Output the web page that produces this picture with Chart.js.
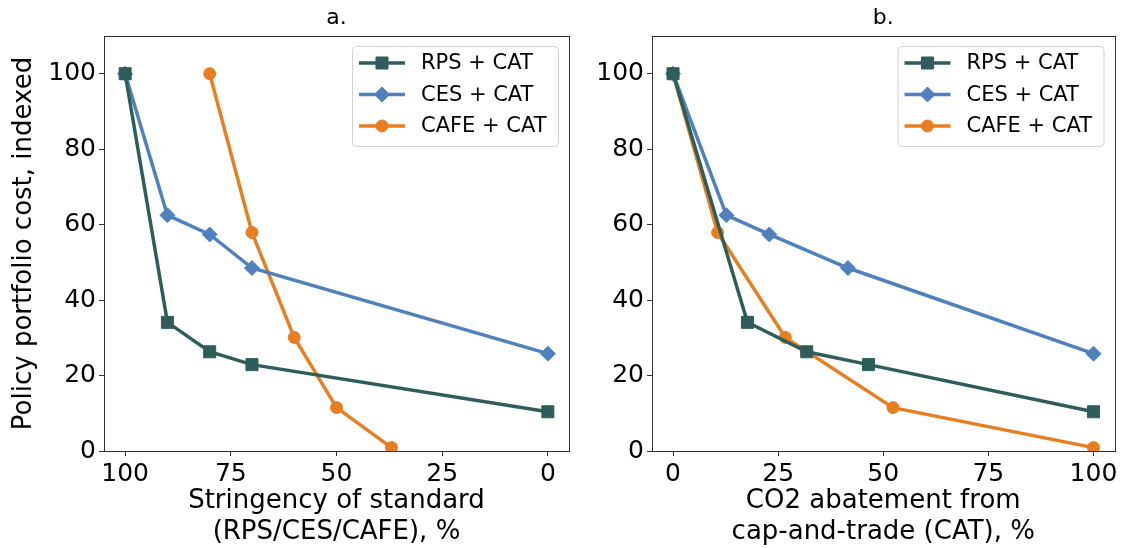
<!DOCTYPE html>
<html>
<head>
<meta charset="utf-8">
<script src="https://cdn.jsdelivr.net/npm/chart.js@4.4.0/dist/chart.umd.min.js"></script>
<style>
  body { margin: 0; background: #fff; }
  #wrap { position: relative; width: 1124px; height: 548px; overflow: hidden; }
  canvas { position: absolute; top: 0; }
  #left { left: 0; }
  #right { left: 548px; }
</style>
</head>
<body>
<div id="wrap">
  <canvas id="left" width="600" height="548" style="width:600px;height:548px"></canvas>
  <canvas id="right" width="576" height="548" style="width:576px;height:548px"></canvas>
</div>
<script>
const seriesNames = ["RPS + CAT", "CES + CAT", "CAFE + CAT"];
const seriesColors = ["#2f5e5a", "#4f81bd", "#e67e22"];
const markerStyles = ["rect", "rectRot", "circle"];
const markerRadius = [8.5, 7.5, 6];

// panel a: stringency of standard (%) vs cost
const stringencyRps = [100, 90, 80, 70, 0];
const stringencyCes = [100, 90, 80, 70, 0];
const stringencyCafe = [80, 70, 60, 50, 37];

// panel b: CO2 abatement from cap-and-trade (%) vs cost
const abatementRps = [0, 17.7, 31.8, 46.5, 100];
const abatementCes = [0, 12.7, 22.9, 41.6, 100];
const abatementCafe = [0, 10.6, 26.7, 52.3, 100];

// cost, indexed (same for both panels)
const costRps = [100, 34.1, 26.3, 22.9, 10.4];
const costCes = [100, 62.5, 57.4, 48.5, 25.8];
const costCafe = [100, 57.9, 30.1, 11.5, 0.9];

const xTicks = [0, 25, 50, 75, 100];
const yTicks = [0, 20, 40, 60, 80, 100];

const FONT = '"DejaVu Sans", sans-serif';

function points(xs, ys){
    return xs.map((x, i) => ({x: x, y: ys[i]}));
}

function makeDatasets(xLists){
    const costs = [costRps, costCes, costCafe];
    return xLists.map((xs, i) => ({
        label: seriesNames[i],
        data: points(xs, costs[i]),
        showLine: true,
        borderColor: seriesColors[i],
        backgroundColor: seriesColors[i],
        borderWidth: 3.5,
        pointStyle: markerStyles[i],
        pointRadius: markerRadius[i],
        pointBorderWidth: 1,
        pointBorderColor: seriesColors[i],
        pointBackgroundColor: seriesColors[i],
        clip: 0
    }));
}

// frame, panel title and boxed legend inside the plot
const panelDecor = {
    id: 'panelDecor',
    afterDatasetsDraw(chart, args, opts){
        const ctx = chart.ctx;
        const a = chart.chartArea;
        ctx.save();
        ctx.strokeStyle = '#333';
        ctx.lineWidth = 1;
        ctx.strokeRect(Math.round(a.left) + 0.5, Math.round(a.top) + 0.5,
                       Math.round(a.right - a.left), Math.round(a.bottom - a.top));

        ctx.fillStyle = '#000';
        ctx.font = '22px ' + FONT;
        ctx.textAlign = 'center';
        ctx.textBaseline = 'middle';
        ctx.fillText(opts.title, (a.left + a.right) / 2, 18);

        const bw = 206, bh = 100;
        const bx = a.right - 11 - bw, by = a.top + 10;
        ctx.beginPath();
        ctx.roundRect(bx + 0.5, by + 0.5, bw, bh, 4);
        ctx.fillStyle = 'rgba(255,255,255,0.8)';
        ctx.fill();
        ctx.strokeStyle = '#d0d0d0';
        ctx.stroke();

        chart.data.datasets.forEach((ds, i) => {
            const y = by + 17 + i * 31.5;
            ctx.strokeStyle = ds.borderColor;
            ctx.fillStyle = ds.backgroundColor;
            ctx.lineWidth = 3.5;
            ctx.beginPath();
            ctx.moveTo(bx + 7, y);
            ctx.lineTo(bx + 53, y);
            ctx.stroke();
            ctx.lineWidth = 1;
            Chart.helpers.drawPoint(ctx, {pointStyle: ds.pointStyle, radius: ds.pointRadius, borderWidth: 1, rotation: 0}, bx + 30, y);
            ctx.fillStyle = '#000';
            ctx.font = '21px ' + FONT;
            ctx.textAlign = 'left';
            ctx.textBaseline = 'middle';
            ctx.fillText(ds.label, bx + 69, y + 1);
        });
        ctx.restore();
    }
};

function buildPanel(canvasId, xLists, opts){
    const tickStyle = {color: '#000', font: {family: FONT, size: 25}};
    return new Chart(document.getElementById(canvasId), {
        type: 'scatter',
        data: {datasets: makeDatasets(xLists)},
        plugins: [panelDecor],
        options: {
            responsive: false,
            animation: false,
            layout: {padding: {top: 36, right: opts.rightPad, bottom: 0, left: 0}},
            plugins: {
                legend: {display: false},
                tooltip: {enabled: false},
                panelDecor: {title: opts.title}
            },
            scales: {
                x: {
                    type: 'linear',
                    min: -5,
                    max: 105,
                    reverse: opts.reverse,
                    afterBuildTicks: s => { s.ticks = xTicks.map(v => ({value: v})); },
                    afterFit: s => { s.height = 97; },
                    ticks: Object.assign({padding: 3, maxRotation: 0}, tickStyle),
                    grid: {drawOnChartArea: false, drawTicks: true, tickLength: 5, color: '#333'},
                    border: {display: false},
                    title: {
                        display: true,
                        text: opts.xTitle,
                        color: '#000',
                        font: {family: FONT, size: 26, lineHeight: 1.2},
                        padding: {top: 0, bottom: 0}
                    }
                },
                y: {
                    type: 'linear',
                    min: 0,
                    max: 110,
                    afterBuildTicks: s => { s.ticks = yTicks.map(v => ({value: v})); },
                    afterFit: s => { s.width = 104; },
                    ticks: Object.assign({padding: 3}, tickStyle),
                    grid: {drawOnChartArea: false, drawTicks: true, tickLength: 5, color: '#333'},
                    border: {display: false},
                    title: {
                        display: opts.yTitle !== '',
                        text: opts.yTitle,
                        color: '#000',
                        font: {family: FONT, size: 26, lineHeight: 1.2},
                        padding: {top: 9, bottom: 0}
                    }
                }
            }
        }
    });
}

buildPanel('left', [stringencyRps, stringencyCes, stringencyCafe], {
    title: 'a.',
    reverse: true,
    rightPad: 31,
    xTitle: ['Stringency of standard', '(RPS/CES/CAFE), %'],
    yTitle: 'Policy portfolio cost, indexed'
});

buildPanel('right', [abatementRps, abatementCes, abatementCafe], {
    title: 'b.',
    reverse: false,
    rightPad: 6,
    xTitle: ['CO2 abatement from', 'cap-and-trade (CAT), %'],
    yTitle: ''
});
</script>
</body>
</html>
